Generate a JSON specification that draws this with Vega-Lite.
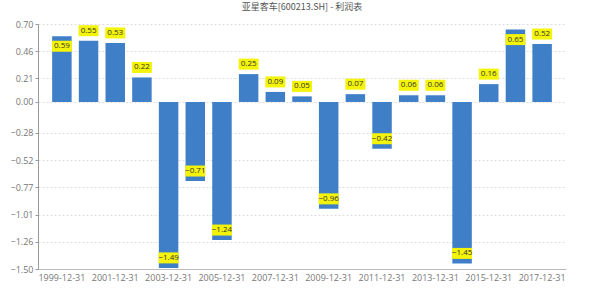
{
  "$schema": "https://vega.github.io/schema/vega-lite/v6.json",
  "autosize": "none",
  "width": 528,
  "height": 245,
  "padding": {"left": 38, "top": 24, "right": 34, "bottom": 23},
  "background": "white",
  "title": {"text": "亚星客车[600213.SH] - 利润表", "fontSize": 9, "fontWeight": "normal", "color": "#555", "font": "Noto Sans CJK SC", "offset": 8, "anchor": "middle"},
  "config": {"view": {"stroke": null}, "font": "Open Sans"},
  "data": {"values": [
    {"date": "1999-12-31", "value": 0.59},
    {"date": "2000-12-31", "value": 0.55},
    {"date": "2001-12-31", "value": 0.53},
    {"date": "2002-12-31", "value": 0.22},
    {"date": "2003-12-31", "value": -1.49},
    {"date": "2004-12-31", "value": -0.71},
    {"date": "2005-12-31", "value": -1.24},
    {"date": "2006-12-31", "value": 0.25},
    {"date": "2007-12-31", "value": 0.09},
    {"date": "2008-12-31", "value": 0.05},
    {"date": "2009-12-31", "value": -0.96},
    {"date": "2010-12-31", "value": 0.07},
    {"date": "2011-12-31", "value": -0.42},
    {"date": "2012-12-31", "value": 0.06},
    {"date": "2013-12-31", "value": 0.06},
    {"date": "2014-12-31", "value": -1.45},
    {"date": "2015-12-31", "value": 0.16},
    {"date": "2016-12-31", "value": 0.65},
    {"date": "2017-12-31", "value": 0.52}
  ]},
  "encoding": {
    "x": {"field": "date", "type": "nominal", "sort": null,
      "scale": {"paddingInner": 0.27, "paddingOuter": 0.53},
      "axis": {"title": null, "labelAngle": 0, "labelFontSize": 9, "labelColor": "#777",
        "values": ["1999-12-31","2001-12-31","2003-12-31","2005-12-31","2007-12-31","2009-12-31","2011-12-31","2013-12-31","2015-12-31","2017-12-31"],
        "ticks": false, "domainColor": "#bbb", "labelPadding": 4}},
    "y": {"field": "value", "type": "quantitative",
      "scale": {"domain": [-1.5, 0.7], "nice": false, "zero": false},
      "axis": {"title": null, "values": [-1.5, -1.2556, -1.0111, -0.7667, -0.5222, -0.2778, 0, 0.2111, 0.4556, 0.7],
        "format": ".2f", "labelFontSize": 9, "labelColor": "#777", "gridColor": "#ddd", "gridDash": [2, 2],
        "domainColor": "#999", "tickSize": 3, "tickColor": "#999", "labelPadding": 2}}
  },
  "layer": [
    {"mark": {"type": "bar", "color": "#3f7fc8"}, "encoding": {"y2": {"datum": 0}}},
    {"transform": [{"filter": "datum.value > 0 && datum.value < 0.57"}],
     "layer": [
       {"mark": {"type": "point", "shape": "M-1,-0.55H1V0.55H-1Z", "size": 400, "filled": true, "color": "#f4f40a", "opacity": 1, "yOffset": -10}},
       {"mark": {"type": "text", "fontSize": 8, "color": "#333", "yOffset": -10}, "encoding": {"text": {"field": "value", "format": ".2f"}}}
     ]},
    {"transform": [{"filter": "datum.value >= 0.57"}],
     "layer": [
       {"mark": {"type": "point", "shape": "M-1,-0.55H1V0.55H-1Z", "size": 400, "filled": true, "color": "#f4f40a", "opacity": 1, "yOffset": 10}},
       {"mark": {"type": "text", "fontSize": 8, "color": "#333", "yOffset": 10}, "encoding": {"text": {"field": "value", "format": ".2f"}}}
     ]},
    {"transform": [{"filter": "datum.value < 0"}],
     "layer": [
       {"mark": {"type": "point", "shape": "M-1,-0.55H1V0.55H-1Z", "size": 400, "filled": true, "color": "#f4f40a", "opacity": 1, "yOffset": -10}},
       {"mark": {"type": "text", "fontSize": 8, "color": "#333", "yOffset": -10}, "encoding": {"text": {"field": "value", "format": ".2f"}}}
     ]}
  ]
}
